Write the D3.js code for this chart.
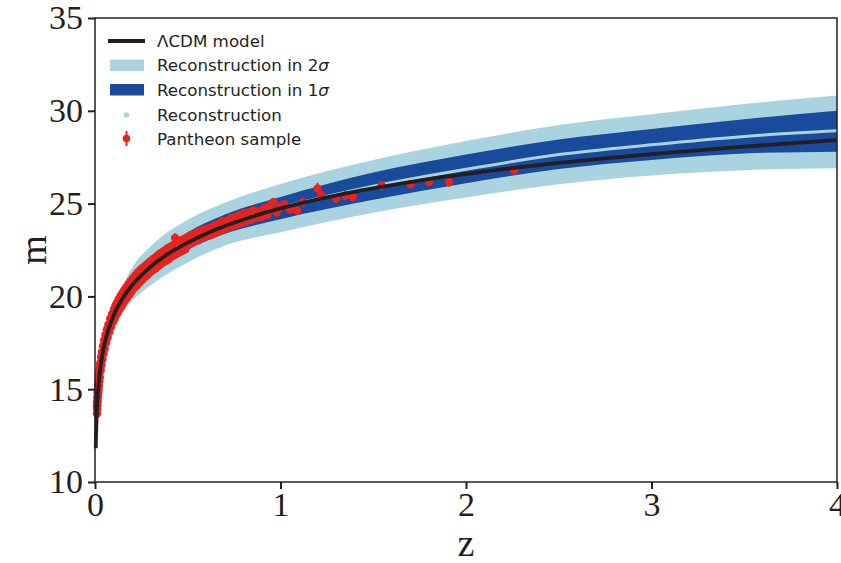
<!DOCTYPE html>
<html>
<head>
<meta charset="utf-8">
<script src="https://cdn.jsdelivr.net/npm/d3@7"></script>
<style>
  body { margin: 0; background: #fff; }
  svg { display: block; }
</style>
</head>
<body>
<div class="chart"></div>
<script>
// tick values
var zTicks = [0, 1, 2, 3, 4];
var mTicks = [10, 15, 20, 25, 30, 35];

// LCDM model curve
var modelZ = [0.004, 0.005, 0.007, 0.01, 0.015, 0.02, 0.03, 0.04, 0.05, 0.07, 0.1, 0.15, 0.2, 0.25, 0.3, 0.4, 0.5, 0.6, 0.7, 0.8, 0.9, 1.0, 1.2, 1.4, 1.6, 1.8, 2.0, 2.5, 3.0, 3.5, 4.0];
var modelM = [11.82, 12.30, 13.04, 13.82, 14.71, 15.34, 16.24, 16.88, 17.38, 18.14, 18.96, 19.91, 20.60, 21.14, 21.60, 22.33, 22.90, 23.38, 23.79, 24.14, 24.46, 24.74, 25.23, 25.65, 26.00, 26.32, 26.60, 27.19, 27.67, 28.07, 28.42];

// reconstruction + confidence bands
var bandZ  = [0.1, 0.2, 0.3, 0.5, 0.7, 1.0, 1.5, 2.0, 2.5, 3.0, 3.5, 4.0];
var recon  = [18.96, 20.65, 21.65, 22.98, 23.89, 24.76, 25.93, 26.85, 27.64, 28.17, 28.62, 28.92];
var upper2 = [19.46, 21.55, 22.70, 24.13, 25.04, 26.06, 27.35, 28.37, 29.24, 29.82, 30.37, 30.82];
var lower2 = [18.46, 19.75, 20.60, 21.83, 22.74, 23.46, 24.51, 25.33, 26.04, 26.52, 26.80, 26.90];
var upper1 = [19.11, 20.95, 22.00, 23.45, 24.41, 25.36, 26.68, 27.65, 28.45, 29.02, 29.55, 30.00];
var lower1 = [18.81, 20.35, 21.30, 22.52, 23.37, 24.16, 25.21, 26.10, 26.86, 27.35, 27.70, 27.80];

// Pantheon sample: [z, m, error]
var pantheon = [
  [0.0101, 14.10, 0.28], [0.0105, 13.68, 0.28], [0.011, 14.30, 0.28], [0.0118, 13.92, 0.28], [0.0124, 14.55, 0.28],
  [0.013, 14.12, 0.28], [0.0137, 14.80, 0.28], [0.0145, 14.35, 0.28], [0.015, 15.00, 0.26], [0.016, 14.58, 0.26],
  [0.0168, 15.25, 0.26], [0.0175, 14.78, 0.26], [0.0183, 15.42, 0.26], [0.019, 14.96, 0.26], [0.020, 15.62, 0.26],
  [0.021, 15.18, 0.25], [0.0222, 15.85, 0.25], [0.0235, 15.42, 0.25], [0.0246, 16.08, 0.25], [0.026, 15.65, 0.25],
  [0.0275, 16.30, 0.24], [0.029, 16.42, 0.24], [0.031, 16.02, 0.24], [0.033, 16.72, 0.24], [0.035, 16.30, 0.24],
  [0.0375, 17.00, 0.22], [0.04, 16.60, 0.22], [0.043, 17.32, 0.22], [0.046, 16.92, 0.22], [0.049, 17.62, 0.22],
  [0.052, 17.18, 0.2], [0.056, 17.92, 0.2], [0.06, 17.50, 0.2], [0.064, 18.22, 0.2], [0.068, 17.78, 0.2],
  [0.072, 18.48, 0.2], [0.077, 18.08, 0.2], [0.082, 18.80, 0.2], [0.087, 18.36, 0.2], [0.092, 19.05, 0.2],
  [0.097, 18.62, 0.2], [0.102, 19.30, 0.2], [0.106, 18.80, 0.2], [0.11, 19.50, 0.2], [0.114, 19.00, 0.2],
  [0.118, 19.66, 0.2], [0.123, 19.15, 0.2], [0.128, 19.85, 0.2], [0.133, 19.32, 0.2], [0.138, 20.02, 0.2],
  [0.143, 19.48, 0.2], [0.148, 20.18, 0.2], [0.153, 19.64, 0.2], [0.158, 20.34, 0.2], [0.163, 19.80, 0.2],
  [0.168, 20.48, 0.2], [0.174, 19.94, 0.2], [0.18, 20.65, 0.2], [0.186, 20.10, 0.2], [0.192, 20.82, 0.2],
  [0.198, 20.28, 0.2], [0.205, 20.98, 0.2], [0.211, 20.45, 0.2], [0.218, 21.14, 0.2], [0.225, 20.58, 0.2],
  [0.232, 21.30, 0.2], [0.24, 20.75, 0.2], [0.247, 21.45, 0.2], [0.255, 20.90, 0.2], [0.262, 21.58, 0.2],
  [0.27, 21.04, 0.2], [0.278, 21.72, 0.2], [0.286, 21.18, 0.2], [0.294, 21.86, 0.2], [0.30, 21.32, 0.2],
  [0.307, 21.96, 0.2], [0.314, 21.42, 0.2], [0.32, 22.06, 0.2], [0.327, 21.52, 0.2], [0.334, 22.18, 0.2],
  [0.341, 21.64, 0.2], [0.348, 22.30, 0.2], [0.355, 21.74, 0.2], [0.362, 22.38, 0.2], [0.369, 21.84, 0.2],
  [0.376, 22.48, 0.2], [0.383, 21.92, 0.2], [0.39, 22.58, 0.2], [0.397, 22.02, 0.2], [0.404, 22.66, 0.2],
  [0.411, 22.12, 0.2], [0.418, 22.75, 0.2], [0.425, 22.20, 0.2], [0.432, 23.15, 0.25], [0.44, 22.30, 0.2],
  [0.448, 22.94, 0.2], [0.456, 22.38, 0.2], [0.464, 23.02, 0.2], [0.472, 22.46, 0.2], [0.48, 23.10, 0.2],
  [0.488, 22.55, 0.2], [0.496, 23.18, 0.2], [0.505, 22.80, 0.2], [0.513, 23.28, 0.2], [0.521, 22.88, 0.2],
  [0.53, 23.32, 0.2], [0.539, 22.98, 0.2], [0.548, 23.44, 0.2], [0.557, 23.03, 0.2], [0.566, 23.52, 0.2],
  [0.575, 23.16, 0.2], [0.584, 23.58, 0.2], [0.593, 23.23, 0.2], [0.602, 23.64, 0.2], [0.612, 23.26, 0.2],
  [0.622, 23.72, 0.2], [0.632, 23.33, 0.2], [0.642, 23.82, 0.2], [0.652, 23.43, 0.2], [0.662, 23.87, 0.2],
  [0.673, 23.53, 0.2], [0.684, 24.02, 0.2], [0.695, 23.60, 0.2], [0.706, 24.07, 0.2], [0.717, 23.70, 0.2],
  [0.728, 24.20, 0.2], [0.739, 23.78, 0.2], [0.75, 24.27, 0.2], [0.762, 23.86, 0.2], [0.774, 24.37, 0.2],
  [0.786, 23.93, 0.2], [0.8, 24.47, 0.2], [0.814, 24.03, 0.2], [0.828, 24.52, 0.2], [0.842, 24.13, 0.2],
  [0.856, 24.64, 0.2], [0.87, 24.23, 0.2], [0.885, 24.57, 0.2], [0.9, 24.28, 0.2], [0.915, 24.77, 0.2],
  [0.93, 24.40, 0.2], [0.946, 24.92, 0.22], [0.962, 25.07, 0.22], [0.98, 24.53, 0.22], [1.0, 24.82, 0.22],
  [1.02, 24.97, 0.22], [1.05, 24.68, 0.22], [1.09, 24.63, 0.24], [1.12, 25.08, 0.24], [1.2, 25.82, 0.3],
  [1.22, 25.44, 0.26], [1.30, 25.28, 0.24], [1.35, 25.44, 0.24], [1.39, 25.35, 0.24], [1.545, 25.98, 0.24],
  [1.70, 26.04, 0.22], [1.80, 26.16, 0.24], [1.91, 26.16, 0.26], [2.26, 26.79, 0.26]
];

// legend entries
var legendLabels = ["\u039BCDM model", "Reconstruction in 2", "Reconstruction in 1", "Reconstruction", "Pantheon sample"];

var w = 841, h = 563;
var margin = {left: 95, right: 4, top: 18, bottom: 81};

var colLight = "#a9d4df", colDark = "#1a4a9b", colRed = "#e8231f", colBlack = "#231f20";

var svg = d3.select(".chart").append("svg")
    .attr("width", w)
    .attr("height", h);

var x = d3.scaleLinear().domain([0, 4]).range([margin.left, w - margin.right]);
var y = d3.scaleLinear().domain([10, 35]).range([h - margin.bottom, margin.top]);

var bandData = bandZ.map(function(z, i){
    return {z: z, r: recon[i], u2: upper2[i], l2: lower2[i], u1: upper1[i], l1: lower1[i]};
});

var plot = svg.append("g");

// 2 sigma band
plot.append("path")
    .datum(bandData)
    .attr("fill", colLight)
    .attr("d", d3.area().curve(d3.curveMonotoneX)
        .x(function(d){ return x(d.z); })
        .y0(function(d){ return y(d.l2); })
        .y1(function(d){ return y(d.u2); }));

// 1 sigma band
plot.append("path")
    .datum(bandData)
    .attr("fill", colDark)
    .attr("d", d3.area().curve(d3.curveMonotoneX)
        .x(function(d){ return x(d.z); })
        .y0(function(d){ return y(d.l1); })
        .y1(function(d){ return y(d.u1); }));

// reconstruction
plot.append("path")
    .datum(bandData)
    .attr("fill", "none")
    .attr("stroke", colLight)
    .attr("stroke-width", 3)
    .attr("d", d3.line().curve(d3.curveMonotoneX)
        .x(function(d){ return x(d.z); })
        .y(function(d){ return y(d.r); }));

// pantheon error bars + points
plot.selectAll("line.err")
    .data(pantheon)
    .enter()
    .append("line")
    .attr("class", "err")
    .attr("x1", function(d){ return x(d[0]); })
    .attr("x2", function(d){ return x(d[0]); })
    .attr("y1", function(d){ return y(d[1] - d[2]); })
    .attr("y2", function(d){ return y(d[1] + d[2]); })
    .attr("stroke", colRed)
    .attr("stroke-width", 2);

plot.selectAll("circle.sn")
    .data(pantheon)
    .enter()
    .append("circle")
    .attr("class", "sn")
    .attr("cx", function(d){ return x(d[0]); })
    .attr("cy", function(d){ return y(d[1]); })
    .attr("r", 4.2)
    .attr("fill", colRed);

// model line
plot.append("path")
    .datum(modelZ.map(function(z, i){ return [z, modelM[i]]; }))
    .attr("fill", "none")
    .attr("stroke", colBlack)
    .attr("stroke-width", 3.8)
    .attr("d", d3.line().curve(d3.curveMonotoneX)
        .x(function(d){ return x(d[0]); })
        .y(function(d){ return y(d[1]); }));

// axes
var xAxis = svg.append("g")
    .attr("transform", "translate(0," + (h - margin.bottom) + ")")
    .call(d3.axisBottom(x).tickValues(zTicks).tickSize(7).tickSizeOuter(0).tickPadding(3).tickFormat(d3.format("d")));
var yAxis = svg.append("g")
    .attr("transform", "translate(" + margin.left + ",0)")
    .call(d3.axisLeft(y).tickValues(mTicks).tickSize(7).tickSizeOuter(0).tickPadding(5).tickFormat(d3.format("d")));

[xAxis, yAxis].forEach(function(a){
    a.select(".domain").remove();
    a.selectAll(".tick line").attr("stroke", colBlack).attr("stroke-width", 2);
    a.selectAll(".tick text")
        .attr("fill", colBlack)
        .style("font-family", "'Liberation Serif', 'Times New Roman', serif")
        .style("font-size", "34px");
});

// frame
svg.append("rect")
    .attr("x", x(0))
    .attr("y", y(35))
    .attr("width", x(4) - x(0))
    .attr("height", y(10) - y(35))
    .attr("fill", "none")
    .attr("stroke", colBlack)
    .attr("stroke-width", 1.5);

// axis labels
svg.append("text")
    .attr("x", (x(0) + x(4)) / 2)
    .attr("y", 556)
    .attr("text-anchor", "middle")
    .style("font-family", "'Liberation Serif', serif")
    .style("font-size", "38px")
    .attr("fill", colBlack)
    .text("z");

svg.append("text")
    .attr("transform", "translate(46," + ((y(10) + y(35)) / 2) + ") rotate(-90)")
    .attr("text-anchor", "middle")
    .style("font-family", "'Liberation Serif', serif")
    .style("font-size", "38px")
    .attr("fill", colBlack)
    .text("m");

// legend
var lg = svg.append("g");
var rowY = [41, 65, 89.5, 115, 138.5];
var lx0 = 108, lx1 = 145, tx = 157;

lg.append("line")
    .attr("x1", lx0).attr("x2", lx1).attr("y1", rowY[0]).attr("y2", rowY[0])
    .attr("stroke", colBlack).attr("stroke-width", 3.8);
lg.append("rect")
    .attr("x", lx0 + 2).attr("y", rowY[1] - 5.5).attr("width", lx1 - lx0 - 3).attr("height", 11.5)
    .attr("fill", colLight);
lg.append("rect")
    .attr("x", lx0 + 2).attr("y", rowY[2] - 5.5).attr("width", lx1 - lx0 - 3).attr("height", 11.5)
    .attr("fill", colDark);
lg.append("circle")
    .attr("cx", (lx0 + lx1) / 2).attr("cy", rowY[3]).attr("r", 2.8)
    .attr("fill", colLight);
lg.append("line")
    .attr("x1", (lx0 + lx1) / 2).attr("x2", (lx0 + lx1) / 2)
    .attr("y1", rowY[4] - 7.5).attr("y2", rowY[4] + 7.5)
    .attr("stroke", colRed).attr("stroke-width", 2);
lg.append("circle")
    .attr("cx", (lx0 + lx1) / 2).attr("cy", rowY[4]).attr("r", 3.8)
    .attr("fill", colRed);

legendLabels.forEach(function(t, i){
    var txt = lg.append("text")
        .attr("x", tx)
        .attr("y", rowY[i])
        .attr("dy", "0.36em")
        .style("font-family", "'DejaVu Sans', sans-serif")
        .style("font-size", "16.7px")
        .attr("fill", colBlack)
        .text(t);
    if (i === 1 || i === 2) {
        txt.append("tspan")
            .style("font-style", "italic")
            .text("\u03C3");
    }
});
</script>
</body>
</html>
